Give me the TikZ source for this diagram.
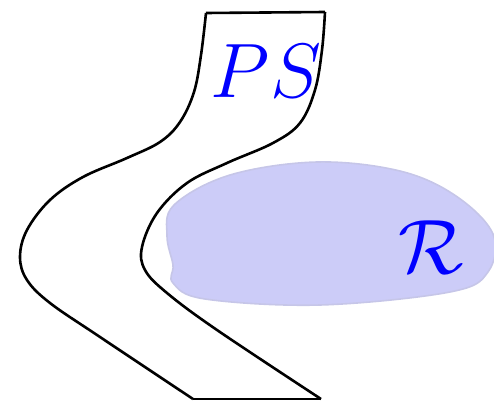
\documentclass[tikz,border=0pt]{standalone}
\usepackage{amsmath,amssymb}
\usepackage{tikz}
\usepackage{xcolor}
\usetikzlibrary{calc,positioning}
\definecolor{rgFill}{RGB}{204,204,248}
\definecolor{rgEdge}{RGB}{198,198,232}
\definecolor{rgLabel}{RGB}{0,0,255}
\tikzset{
  stripline/.style={line width=2.6pt,line join=round},
  regionblob/.style={fill=rgFill,draw=rgEdge,line width=1.6pt},
  biglabel/.style={text=rgLabel,font=\Huge,scale=3.1,inner sep=0pt}
}

\begin{document}
\begin{tikzpicture}[x=1pt,y=-1pt]
  \useasboundingbox (0,0) rectangle (494,401);
  % shaded region
  \draw[regionblob] plot[smooth cycle,tension=0.6] coordinates {
    (174,205) (230,175) (317,162) (400,171) (456,196) (493,234)
    (488,272) (450,292) (320,305) (205,299) (173,283) (173,265) (167,236)};
  \node[biglabel] (R) at (431,247) {$\mathcal{R}$};
  % strip
  \coordinate (LT) at (206,13);
  \coordinate (RT) at (325,12);
  \coordinate (LB) at (193,399);
  \coordinate (RB) at (321,399);
  \draw[stripline] plot[smooth,tension=0.6] coordinates {
    (LT) (201,55) (194,92) (180,122) (160,142) (127,158) (83,177)
    (50,200) (27,230) (20,257) (27,280) (50,303) (100,337) (LB)};
  \draw[stripline] plot[smooth,tension=0.6] coordinates {
    (RT) (322,50) (315,90) (300,123) (273,143) (227,163) (187,183)
    (157,213) (142,247) (145,270) (167,293) (217,330) (RB)};
  \draw[stripline] (LT) -- (RT);
  \draw[stripline] (LB) -- (RB);
  \node[biglabel] (PS) at (266,71) {$PS$};
\end{tikzpicture}
\end{document}
